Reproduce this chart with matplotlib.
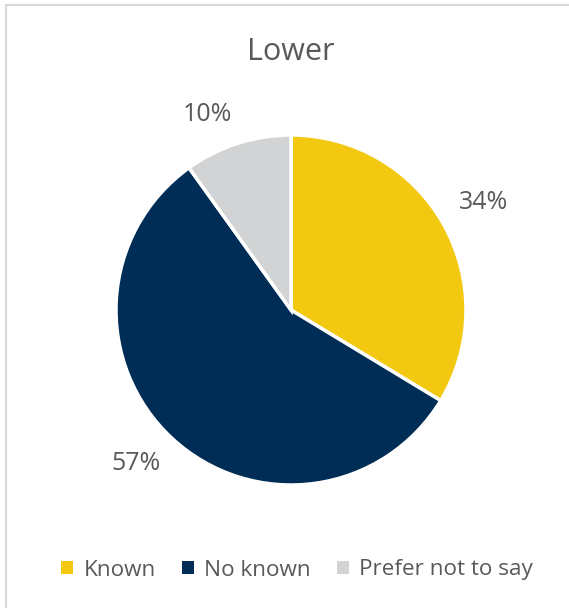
#!/usr/bin/env python3
# pie chart: Lower

import matplotlib
matplotlib.use("Agg")
import matplotlib.pyplot as plt
from matplotlib.patches import Patch, Rectangle

categories = ["Known", "No known", "Prefer not to say"]
values = [34, 57, 10]
pct_labels = ["34%", "57%", "10%"]
colors = ["#F2C811", "#002D56", "#D1D3D4"]
title = "Lower"

plt.rcParams["font.family"] = ["Open Sans", "DejaVu Sans"]
text_color = "#595959"


def main():
    W, H = 569, 608
    fig = plt.figure(figsize=(W / 100, H / 100), dpi=100)

    # outer chart border
    fig.patches.append(Rectangle((6 / W, -0.05), 1.2, 1.05 - 5 / H,
                                 transform=fig.transFigure, fill=False,
                                 edgecolor="#D9D9D9", linewidth=1.5))

    cx, cy, r = 291, 310, 175
    half = 250
    ax = fig.add_axes([(cx - half) / W, (H - cy - half) / H, 2 * half / W, 2 * half / H])
    _, texts = ax.pie(values, labels=pct_labels, colors=colors, startangle=90,
                      counterclock=False, labeldistance=1.1,
                      wedgeprops=dict(edgecolor="white", linewidth=2.5),
                      textprops=dict(color=text_color, fontsize=18))
    # anchor the label corner nearest the pie, like Excel's outside-end labels
    for t in texts:
        x, y = t.get_position()
        t.set_ha("left" if x >= 0 else "right")
        t.set_va("bottom" if y >= 0 else "top")
    lim = half / r
    ax.set_xlim(-lim, lim)
    ax.set_ylim(-lim, lim)
    ax.set_aspect("equal")
    ax.axis("off")

    fig.text(291 / W, 1 - 52 / H, title, ha="center", va="center",
             fontsize=22, color=text_color)

    handles = [Patch(facecolor=c, edgecolor="none") for c in colors]
    fig.legend(handles, categories, loc="center", ncol=3,
               bbox_to_anchor=(297 / W, 1 - 570 / H), frameon=False,
               handlelength=0.55, handleheight=0.55, handletextpad=0.45,
               columnspacing=1.15, fontsize=16.2, labelcolor=text_color)

    fig.savefig("out.png", dpi=100)


if __name__ == "__main__":
    main()
